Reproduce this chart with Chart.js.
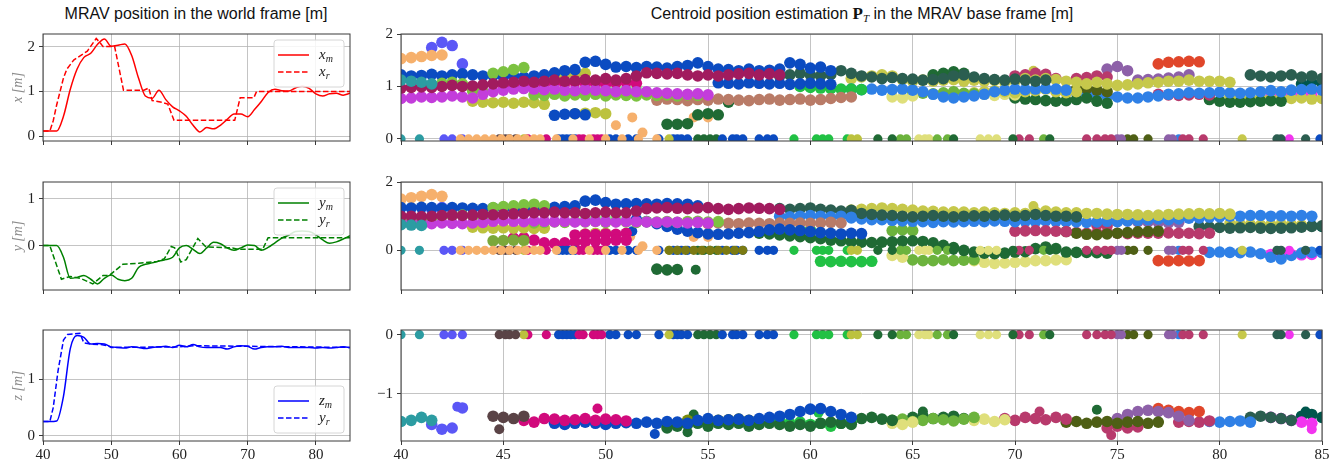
<!DOCTYPE html>
<html>
<head>
<meta charset="utf-8">
<script src="https://cdn.jsdelivr.net/npm/chart.js@4.4.1/dist/chart.umd.min.js"></script>
<style>
  body { margin: 0; background: #fff; width: 1338px; height: 464px; position: relative; overflow: hidden; font-family: "Liberation Sans", sans-serif; }
  canvas { position: absolute; }
  .title { position: absolute; top: 5px; font-size: 16px; color: #111; white-space: nowrap; transform: translateX(-50%); line-height: 18px; }
  .bold { font-family: "Liberation Serif", serif; font-weight: bold; font-size: 17px; }
  .sub { font-family: "Liberation Serif", serif; font-style: italic; font-size: 11px; vertical-align: -3px; }
</style>
</head>
<body>
<div class="title" style="left:196px">MRAV position in the world frame [m]</div>
<div class="title" style="left:862px">Centroid position estimation <span class="bold">P</span><span class="sub">T</span> in the MRAV base frame [m]</div>

<canvas id="l1" width="352" height="133" style="left:0;top:21px"></canvas>
<canvas id="l2" width="352" height="134" style="left:0;top:169px"></canvas>
<canvas id="l3" width="352" height="146" style="left:0;top:317px"></canvas>
<canvas id="r1" width="986" height="133" style="left:352px;top:21px"></canvas>
<canvas id="r2" width="986" height="134" style="left:352px;top:169px"></canvas>
<canvas id="r3" width="986" height="146" style="left:352px;top:317px"></canvas>

<script>
// ---- left column: MRAV position, sampled once per second from t = 40 s
const tSec = [40,41,42,43,44,45,46,47,48,49,50,51,52,53,54,55,56,57,58,59,60,61,62,63,64,65,66,67,68,69,70,71,72,73,74,75,76,77,78,79,80,81,82,83,84,85];
const xm = [0.12,0.12,0.12,0.45,1.05,1.5,1.76,1.85,2.05,2.17,2.01,2.03,2.06,1.8,1.3,0.9,0.85,1.03,0.82,0.66,0.57,0.45,0.25,0.1,0.2,0.17,0.25,0.38,0.5,0.5,0.44,0.6,0.78,0.98,1.05,1.02,1.01,1.08,1.12,1.07,0.95,0.9,0.95,0.96,0.92,0.96];
const ym = [0,0,0,-0.25,-0.7,-0.68,-0.64,-0.72,-0.82,-0.7,-0.63,-0.72,-0.75,-0.7,-0.47,-0.4,-0.37,-0.33,-0.3,-0.25,-0.05,0,-0.08,-0.17,-0.05,0.07,0.04,-0.05,-0.1,-0.05,0.01,0,-0.1,-0.04,0.06,0.16,0.22,0.3,0.31,0.3,0.23,0.12,0.05,0.08,0.14,0.21];
const zm = [0.25,0.25,0.26,0.7,1.55,1.78,1.75,1.63,1.64,1.63,1.58,1.57,1.56,1.58,1.57,1.55,1.57,1.58,1.59,1.57,1.61,1.58,1.62,1.58,1.57,1.57,1.57,1.54,1.58,1.6,1.59,1.54,1.57,1.58,1.58,1.59,1.57,1.57,1.57,1.57,1.56,1.57,1.56,1.57,1.58,1.57];

// references (piecewise, read at their corners)
const xrT = [40,41,41.5,42,43,43.5,44.5,45.5,46.5,47.8,48.4,48.8,50.5,51.8,54.8,55.5,56,57.5,58.3,59.2,68.1,68.9,70.9,71.3,85];
const xrV = [0.12,0.12,0.35,0.7,1.3,1.5,1.7,1.8,1.9,2.18,2.08,2.0,2.0,1.03,1.03,1.08,0.8,0.76,0.72,0.36,0.36,0.86,0.86,1.0,1.0];
const yrT = [40,41,42.7,44,45.5,47.3,48.8,49.7,51.7,54,56.8,57.8,58.8,59.3,60.2,61,62.7,63.9,67.8,68.5,72.2,73,85];
const yrV = [0,0,-0.72,-0.66,-0.7,-0.82,-0.64,-0.64,-0.4,-0.38,-0.34,-0.28,-0.02,-0.05,-0.35,-0.3,0.15,-0.03,-0.05,-0.08,-0.08,0.17,0.17];
const zrT = [40,41,41.5,42.2,43,43.6,45.4,46,47,48.5,49.5,50,60,62,70,85];
const zrV = [0.25,0.25,0.5,1.15,1.7,1.8,1.82,1.65,1.63,1.62,1.6,1.57,1.58,1.6,1.59,1.57];

// ---- right column: centroid estimates. Tracks are hand-read every DT seconds
const DT = 0.5;
const ROYAL = "#0b4bc1", PEACH = "#f6b06c", PERI = "#5b57f6", LIME = "#7cc241", OLIVE = "#bcc23e";
const CRIMSON = "#a11b5e", VIOLET = "#c33ddb", PINK = "#d10a7c", SALMON = "#b97b67", TEAL = "#2c9ca2";
const MINT = "#8ff58f", DKGREEN = "#1f6a34", SLATE = "#2b5e50", BGREEN = "#21c144", YOLIVE = "#c6c84b";
const PALE = "#dfdf7b", GREEN = "#6cb33d", AZURE = "#2f80e6", RASP = "#b83a6c", PURPLE = "#8d60a8";
const RED = "#e0462a", DKOLIVE = "#4e5f15", MAGENTA = "#f234ef", DKTEAL = "#00564c", BROWN = "#5a4346";
const OLIVEG = "#7a8c0c", LOLIVEG = "#7ba83a", MUDOLIVE = "#7b7a12";

// invalid detections, reported at 0 in all three axes
const zeroDots = [
  [TEAL, [40.0, 40.9]],
  [PERI, [42.1, 42.5, 43.0]],
  [BROWN, [44.8, 45.1, 45.3, 45.6]],
  [OLIVE, [46.0, 53.1, 62.0, 62.3]],
  [PINK, [46.2, 47.1, 48.7, 48.9, 49.4, 49.6, 49.8]],
  [ROYAL, [47.7, 47.9, 48.1, 48.3, 48.5, 50.2, 50.5, 51.1, 51.5, 52.6, 53.3, 53.5, 53.7, 54.0, 55.7, 56.2, 56.4, 56.7, 57.5, 57.9, 58.2, 84.9]],
  [DKGREEN, [54.5, 54.8, 55.1, 55.4, 63.3, 64.0, 67.0, 69.9, 71.7]],
  [BGREEN, [59.2, 60.3, 60.6, 60.9, 61.8]],
  [GREEN, [64.4, 64.7, 66.2, 66.7, 71.4]],
  [PALE, [65.3, 65.6, 65.8, 68.3, 68.7, 69.1]],
  [RASP, [70.2, 70.7, 73.5, 74.0, 74.4, 74.7, 78.2, 78.5, 79.2]],
  [PURPLE, [75.0, 75.2, 77.5, 77.7]],
  [DKOLIVE, [75.5, 75.8, 76.5]],
  [SLATE, [82.8, 83.0, 84.2]],
  [AZURE, [78.0]],
  [MAGENTA, [83.4]],
  [YOLIVE, [81.1]]
];
const peachZero = [42.9, 43.3, 43.7, 44.1, 44.5, 44.9, 45.3, 45.7, 46.1, 46.5, 46.8, 47.6, 48.4, 49.2, 50.0, 50.8, 51.6, 52.5];
const mudZero = [53.1, 53.5, 53.9, 54.3, 54.7, 55.1, 55.5, 55.9, 56.3, 56.7];

// [colour, start time, values]
const xTracks = [
  [TEAL, 40, [1.12,1.1,1.08,1.05]],
  [CRIMSON, 40, [0.97,0.98,0.99,0.98,1.0,1.02,1.0,1.01,1.03,1.05,1.07,1.08,1.1,1.08,1.1,1.12,1.1,1.11,1.13,1.12,1.15,1.12,1.15,1.2,1.26,1.25,1.24,1.25,1.22,1.2,1.22,1.2,1.22,1.24,1.25,1.22,1.24,1.22]],
  [VIOLET, 40, [0.77,0.78,0.8,0.79,0.8,0.82,0.8,0.78,0.85,0.9,0.93,0.95,0.96,0.95,0.94,0.95,0.93,0.92,0.94,0.93,0.92,0.9,0.92,0.9,0.9,0.88,0.87,0.86,0.85,0.86,0.84]],
  [PINK, 45, [1.02,1.03,1.05,1.06,1.05,1.07,1.06,1.08,1.07,1.06,1.05,1.07,1.08,1.06]],
  [LIME, 41.5, [1.03,1.06,1.08,1.05,0.92,0.9,1.25,1.28,1.32,1.36]],
  [LIME, 46.5, [0.84,0.83,0.85,0.82,0.84,0.83,0.85,0.82,0.84,0.83,0.82,0.84,0.83,0.84,0.82,0.84,0.83]],
  [ROYAL, 40, [1.22,1.2,1.21,1.23,1.2,1.22,1.24,1.22,1.2,1.21,1.19,1.2,1.18,1.2,1.22,1.26,1.3,1.32,1.46,1.48,1.42,1.37,1.38,1.36,1.38,1.37,1.35,1.38,1.4,1.45,1.38,1.33,1.32,1.3,1.33,1.3,1.31,1.33,1.45,1.42,1.35,1.37,1.3]],
  [ROYAL, 47.5, [0.45,0.47,0.48,0.46]],
  [ROYAL, 55.5, [1.07,1.06,1.05,1.07,1.06,1.05,1.06,1.04,1.05,1.06,1.05,1.04]],
  [PEACH, 40, [1.53,1.55,1.57,1.59,1.6]],
  [PERI, 41.5, [1.74,1.84,1.78,1.43]],
  [OLIVE, 43.5, [0.72,0.7,0.69,0.7,0.68,0.7,0.69,0.66]],
  [OLIVE, 47.5, [1.2,1.22,1.24,1.25]],
  [OLIVE, 48.5, [0.48,0.49,0.5,0.48]],
  [MINT, 49, [0.95,0.96,0.95,0.97,0.95,0.96]],
  [SALMON, 52.5, [0.74,0.76,0.75,0.73,0.75,0.74,0.76,0.75,0.74,0.73,0.75,0.76,0.74,0.75,0.76,0.74,0.75,0.77,0.79,0.8]],
  [DKGREEN, 53, [0.28,0.28,0.29,0.46,0.48,0.46,0.7]],
  [SLATE, 58.5, [1.2,1.22,1.25,1.22,1.2,1.23,1.3,1.25,1.2,1.18,1.15,1.17,1.15,1.14,1.12,1.13,1.15,1.2,1.22,1.18,1.15,1.13,1.12,1.14,1.12,1.1,1.12]],
  [BGREEN, 59.5, [1.0,0.98,0.97,0.96,0.95,0.95,0.94]],
  [AZURE, 62, [0.95,0.94,0.95,0.93,0.94,0.95,0.93,0.9,0.85,0.8,0.78,0.8,0.82,0.85,0.9,0.93,0.95,0.94,0.95,0.96,0.95,0.93]],
  [YOLIVE, 62, [1.15,1.18,1.2,1.22,1.2,1.13,1.1,1.12,1.1,1.12,1.13,1.1,1.12,1.1,1.12,1.08,1.1,1.15,1.12,1.15,1.13,1.1,1.08,1.05,1.08,1.05,1.02,1.03,1.05,1.07,1.08,1.1,1.1,1.12,1.1,1.1,1.1,1.08]],
  [PALE, 64, [0.8,0.78,0.82]],
  [GREEN, 65, [0.88,0.87,0.86,0.88,0.9,0.87,0.86]],
  [DKGREEN, 66, [1.22,1.25,1.28,1.25]],
  [YOLIVE, 68, [0.88,0.9,0.92,0.9,0.88,0.9,0.92,0.95,0.9,0.88,0.9]],
  [PALE, 68.5, [0.85,0.83,0.85,0.84]],
  [DKGREEN, 70, [0.78,0.76,0.75,0.73,0.72,0.73,0.75,0.78,0.72,0.68]],
  [RASP, 70, [1.2,1.22,1.25,1.23,1.15]],
  [DKOLIVE, 72.5, [0.92,0.95,0.96,0.93,0.9]],
  [AZURE, 73, [0.88,0.86,0.85,0.82,0.8,0.78,0.78,0.8,0.82,0.85,0.86,0.88,0.87,0.88,0.89,0.88,0.87,0.88,0.9,0.92,0.9,0.93,0.94,0.95,0.93]],
  [RASP, 73, [1.15,1.17,1.2,1.18]],
  [PURPLE, 74.5, [1.33,1.38,1.3,1.12,1.13,1.14,1.16,1.18,1.22]],
  [RED, 77, [1.43,1.46,1.47,1.48,1.47]],
  [RASP, 77, [0.85,0.84,0.83,0.84,0.85,0.84]],
  [DKGREEN, 79.5, [0.75,0.72,0.7,0.7,0.71,0.72,0.73,0.72]],
  [YOLIVE, 80.5, [0.8,0.78,0.77,0.78,0.76,0.78,0.77,0.78,0.76,0.77]],
  [SLATE, 81.5, [1.22,1.2,1.18,1.2,1.22,1.18,1.2,1.15]],
  [MAGENTA, 82.5, [0.8,0.82,0.83,0.84,0.86]],
  [DKTEAL, 84, [1.05,1.08,1.07]]
];
const xExtras = [[PEACH, 50.5, 0.26], [PEACH, 51.3, 0.41], [PEACH, 51.8, 0.12], [PEACH, 54.3, 0.41], [PEACH, 55.0, 0.41], [YOLIVE, 70.9, 1.3]];

const yTracks = [
  [TEAL, 40, [0.75,0.74,0.73]],
  [CRIMSON, 40, [1.0,1.0,0.99,1.0,1.02,1.03,1.02,1.03,1.05,1.04,1.05,1.07,1.08,1.1,1.1,1.12,1.1,1.1,1.08,1.1,1.12,1.1,1.1,1.15,1.22,1.24,1.25,1.23,1.22,1.24,1.25,1.22,1.2,1.22,1.24,1.23,1.22,1.2]],
  [VIOLET, 40, [0.78,0.79,0.8,0.78,0.8,0.79,0.78,0.8,0.82,0.85,0.86,0.85,0.84,0.86,0.85,0.84,0.85,0.83,0.84,0.85,0.84,0.83,0.85,0.84,0.83,0.82,0.83,0.82,0.8,0.82,0.8]],
  [LIME, 40, [0.88,0.9,0.92,0.95,1.0,1.02,1.03,1.0,0.95,1.25,1.28,1.3,1.33,1.35,1.3]],
  [LIME, 46.5, [0.8,0.82,0.83,0.82,0.84,0.83,0.85,0.82,0.84,0.83,0.82,0.84,0.83,0.84,0.82,0.84,0.85,0.83,0.84]],
  [ROYAL, 40, [1.25,1.24,1.26,1.25,1.23,1.25,1.24,1.23,1.22,1.24,1.23,1.22,1.2,1.22,1.24,1.26,1.28,1.3,1.44,1.47,1.4,1.35,1.36,1.37,1.36,1.35,1.37,1.36,1.35,1.3]],
  [ROYAL, 51.5, [0.9,0.84,0.78,0.7,0.62,0.56,0.52,0.48,0.47,0.48,0.5,0.52,0.55,0.6,0.62,0.6,0.58,0.55,0.52,0.5,0.48,0.5,0.49]],
  [PEACH, 40, [1.5,1.54,1.58,1.63,1.58]],
  [PERI, 41.5, [1.2,1.25,1.22]],
  [OLIVE, 43.5, [0.68,0.66,0.65,0.66,0.65,0.66,0.64,0.65]],
  [LOLIVEG, 44.5, [0.28,0.29,0.3,0.29]],
  [PINK, 45.5, [0.36,0.37,0.3,0.22,0.2,0.22,0.24,0.25,0.27,0.28,0.3,0.3]],
  [OLIVE, 47, [1.2,1.22,1.24,1.25]],
  [PINK, 48.5, [0.45,0.47,0.46,0.48,0.47,0.5]],
  [OLIVE, 49, [0.48,0.5,0.5]],
  [MINT, 49, [0.92,0.93,0.92,0.94]],
  [DKGREEN, 52.5, [-0.55,-0.57,-0.56]],
  [SALMON, 55, [0.78,0.8,0.79,0.78,0.8,0.79,0.78,0.8,0.79,0.8,0.79,0.8,0.82,0.8]],
  [DKGREEN, 57.5, [0.5,0.48,0.45,0.42,0.4,0.37,0.34,0.3,0.28,0.25,0.24,0.23,0.24,0.25,0.27,0.28,0.26,0.22,0.15,0.08,0.0,-0.05,-0.08,-0.1,-0.08,-0.05,-0.04,0.05,0.1,0.05,-0.05,-0.06,-0.06,-0.07,-0.08]],
  [AZURE, 58.5, [1.0,0.98,1.0,1.02,1.0,0.98,1.0,0.97]],
  [SLATE, 58.5, [1.22,1.2,1.22,1.24,1.2,1.18,1.15,1.17]],
  [BGREEN, 58.5, [0.6,0.58,0.57,0.6]],
  [BGREEN, 60.5, [-0.32,-0.33,-0.32,-0.33,-0.33,-0.32]],
  [SLATE, 62, [1.1,1.08,1.05,1.03,1.02,1.0,0.98,1.0,1.02,1.0,0.98,1.0,1.01,1.0,1.02,1.03,1.0,1.02,1.05,1.02,1.0,1.0,0.98]],
  [YOLIVE, 62, [1.18,1.2,1.22,1.24,1.22,1.2,1.18,1.15,1.14,1.12,1.13,1.12,1.1,1.12,1.1,1.08,1.1,1.08,1.12,1.15,1.12,1.1,1.1,1.08,1.08,1.06,1.05,1.05,1.04,1.02,1.03,1.05,1.06,1.07,1.08,1.07,1.08,1.06]],
  [AZURE, 62, [0.95,0.92,0.9,0.9,0.88,0.86,0.85,0.84,0.82,0.84,0.83,0.84,0.85,0.84,0.86,0.85,0.84]],
  [GREEN, 64, [0.58,0.6,0.58]],
  [PALE, 64, [-0.15,-0.2]],
  [GREEN, 65, [-0.28,-0.3,-0.3,-0.28,-0.3,-0.29,-0.27]],
  [PALE, 68, [-0.3,-0.35,-0.38,-0.37,-0.35,-0.33,-0.3,-0.3,-0.28,-0.27]],
  [RASP, 70, [0.56,0.57,0.58,0.57,0.56,0.55]],
  [AZURE, 70.5, [0.85,0.84,0.86,0.85,0.84,0.83,0.82,0.83,0.85,0.84,0.86,0.88,0.9,0.92,0.9,0.92,0.94,0.95,0.97,0.98,1.0,1.0,1.02,1.02,1.0,1.01,1.0,1.02,1.0]],
  [DKOLIVE, 72.5, [0.55,0.5,0.47,0.46,0.48,0.5,0.52,0.54,0.55,0.56]],
  [RASP, 73, [0.52,0.5,0.5,0.52,0.5,0.49,0.5,0.5,0.5,0.51,0.5,0.5,0.49,0.5]],
  [RASP, 74, [0.74,0.72]],
  [PURPLE, 74.5, [0.82,0.85,0.86,0.84,0.83,0.82,0.8,0.82]],
  [RED, 77, [-0.3,-0.31,-0.3,-0.31,-0.3]],
  [SLATE, 79, [0.7,0.68,0.67,0.65,0.66,0.67,0.65,0.64,0.65,0.66,0.68,0.7,0.72]],
  [AZURE, 79.5, [-0.06,-0.05,-0.06,-0.07,-0.05,-0.1,-0.2,-0.25,-0.15,-0.08,-0.06,-0.07]],
  [YOLIVE, 80.5, [0.78,0.76,0.75,0.74,0.75,0.76,0.75,0.74]],
  [MAGENTA, 82.5, [-0.12,-0.13,-0.12,-0.13,-0.12]],
  [DKTEAL, 84, [0.7,0.72,0.7]]
];
const yExtras = [[ROYAL, 51.3, 0.56], [PEACH, 51.2, 0.41], [PEACH, 51.8, 0.12], [PEACH, 54.3, 0.39], [PEACH, 55.0, 0.39], [DKGREEN, 54.4, -0.57], [YOLIVE, 70.9, 1.3]];

const zTracks = [
  [TEAL, 40, [-1.47,-1.45,-1.4,-1.45]],
  [PERI, 41.5, [-1.52,-1.6,-1.58,-1.24]],
  [BROWN, 44.5, [-1.38,-1.4,-1.42,-1.38]],
  [PINK, 46, [-1.45,-1.48,-1.42,-1.43,-1.45,-1.44,-1.42,-1.45,-1.43,-1.44,-1.46]],
  [ROYAL, 47.5, [-1.5,-1.52,-1.5,-1.48,-1.5,-1.52,-1.5,-1.49,-1.5,-1.48,-1.5,-1.47,-1.48,-1.5,-1.45,-1.42,-1.45,-1.44,-1.43,-1.45,-1.42,-1.4,-1.38,-1.35,-1.3,-1.26,-1.25,-1.3,-1.35,-1.4]],
  [DKGREEN, 53, [-1.58,-1.55,-1.52,-1.5,-1.55,-1.5,-1.52,-1.5,-1.55,-1.52,-1.5,-1.52,-1.55,-1.52,-1.55,-1.5,-1.48,-1.5,-1.52]],
  [OLIVEG, 53, [-1.55,-1.5,-1.45,-1.47,-1.48,-1.45,-1.44,-1.43,-1.45]],
  [BGREEN, 58.5, [-1.45,-1.5,-1.48,-1.52,-1.5,-1.55,-1.5,-1.48]],
  [DKGREEN, 62.5, [-1.42,-1.4,-1.43,-1.45]],
  [PALE, 64, [-1.5,-1.52,-1.48]],
  [GREEN, 64, [-1.45,-1.43,-1.47,-1.45,-1.42,-1.44,-1.46,-1.43,-1.4]],
  [DKGREEN, 65, [-1.4,-1.38,-1.42,-1.4,-1.38,-1.42]],
  [PALE, 68, [-1.45,-1.43,-1.47,-1.44]],
  [RASP, 69.5, [-1.42,-1.45,-1.4,-1.42,-1.44,-1.4,-1.43]],
  [DKOLIVE, 72.5, [-1.48,-1.47,-1.5,-1.48,-1.47,-1.5,-1.48,-1.47,-1.5,-1.48]],
  [RASP, 74.5, [-1.58,-1.55,-1.58,-1.56]],
  [PURPLE, 74.5, [-1.48,-1.42,-1.35,-1.3,-1.28,-1.3,-1.32,-1.38,-1.45]],
  [RED, 77, [-1.25,-1.28,-1.3,-1.32,-1.3]],
  [RASP, 78, [-1.48,-1.47,-1.48,-1.46]],
  [AZURE, 79.5, [-1.47,-1.48,-1.47,-1.46,-1.48]],
  [SLATE, 81.5, [-1.4,-1.38,-1.4,-1.42,-1.45]],
  [MAGENTA, 82.5, [-1.4,-1.42,-1.45,-1.48,-1.5]],
  [DKTEAL, 84, [-1.38,-1.35,-1.4]]
];
const zExtras = [[PERI, 42.75, -1.22], [BROWN, 44.8, -1.6], [PINK, 49.6, -1.25], [ROYAL, 52.4, -1.68], [DKGREEN, 54.0, -1.65], [DKGREEN, 54.3, -1.35],
  [BGREEN, 60.4, -1.32], [DKGREEN, 65.5, -1.3], [RASP, 71.2, -1.3], [DKGREEN, 74.0, -1.27], [RASP, 74.7, -1.7], [MAGENTA, 84.5, -1.6], [DKTEAL, 84.2, -1.3]];

const pairs = (ts, vs) => ts.map((t, i) => ({ x: t, y: vs[i] }));
const trackPoints = (t0, ys) => ys.map((y, i) => ({ x: t0 + i * DT, y }));

const TICK_FONT = { family: "Liberation Serif", size: 15 };
const GRID = "rgba(176,176,176,0.75)";

// frame round the axes + y label + math legend
const framePlugin = {
  id: "frame",
  afterDraw(chart, args, opts) {
    const { ctx, chartArea: a } = chart;
    ctx.save();
    ctx.strokeStyle = "#3a3a3a";
    ctx.lineWidth = 1;
    ctx.strokeRect(a.left, a.top, a.right - a.left, a.bottom - a.top);
    if (opts.ylabel) {
      ctx.translate(a.left - 25, (a.top + a.bottom) / 2);
      ctx.rotate(-Math.PI / 2);
      ctx.fillStyle = "#8c8c8c";
      ctx.font = "italic 14px 'Liberation Serif'";
      ctx.textAlign = "center";
      ctx.textBaseline = "middle";
      ctx.fillText(opts.ylabel, 0, 0);
    }
    ctx.restore();
    if (opts.legend) {
      const L = opts.legend;
      const w = 70, h = 47;
      const x0 = a.right - w - 6;
      const y0 = L.loc === "lower" ? a.bottom - h - 8 : a.top + 6;
      ctx.save();
      ctx.fillStyle = "rgba(255,255,255,0.85)";
      ctx.strokeStyle = "#d6d6d6";
      ctx.beginPath();
      ctx.roundRect(x0, y0, w, h, 3);
      ctx.fill();
      ctx.stroke();
      L.items.forEach((it, i) => {
        const y = y0 + 15 + i * 17;
        ctx.strokeStyle = L.color;
        ctx.lineWidth = 1.5;
        ctx.setLineDash(it.dash ? [5.5, 2.5] : []);
        ctx.beginPath();
        ctx.moveTo(x0 + 4, y);
        ctx.lineTo(x0 + 35, y);
        ctx.stroke();
        ctx.setLineDash([]);
        ctx.fillStyle = "#222";
        ctx.font = "italic 15px 'Liberation Serif'";
        ctx.textBaseline = "alphabetic";
        ctx.fillText(it.sym, x0 + 45, y + 4);
        const sw = ctx.measureText(it.sym).width;
        ctx.font = "italic 10px 'Liberation Serif'";
        ctx.fillText(it.sub, x0 + 45 + sw, y + 7);
      });
      ctx.restore();
    }
  }
};

function axes(xTicks, showX, xH, yMin, yMax, yTicks, yW) {
  return {
    x: {
      type: "linear", min: 40, max: 85,
      afterBuildTicks: (ax) => { ax.ticks = xTicks.map(v => ({ value: v })); },
      afterFit: (ax) => { ax.height = xH; },
      grid: { color: GRID, lineWidth: 1, tickLength: 4, tickColor: "#3a3a3a" },
      border: { display: false },
      ticks: { display: showX, font: TICK_FONT, color: "#222", padding: 1, maxRotation: 0 }
    },
    y: {
      min: yMin, max: yMax,
      afterBuildTicks: (ax) => { ax.ticks = yTicks.map(v => ({ value: v })); },
      afterFit: (ax) => { ax.width = yW; },
      grid: { color: GRID, lineWidth: 1, tickLength: 4, tickColor: "#3a3a3a" },
      border: { display: false },
      ticks: { font: TICK_FONT, color: "#222", padding: 4, callback: (v) => (v < 0 ? "\u2212" + (-v) : String(v)) }
    }
  };
}

function lineChart(id, color, meas, ref, yMin, yMax, yTicks, showX, xH, ylabel, legend) {
  new Chart(document.getElementById(id), {
    type: "scatter",
    data: {
      datasets: [
        { data: meas, showLine: true, borderColor: color, borderWidth: 1.5, pointRadius: 0, tension: 0, cubicInterpolationMode: "monotone" },
        { data: ref, showLine: true, borderColor: color, borderWidth: 1.5, pointRadius: 0, borderDash: [5.5, 2.5], tension: 0 }
      ]
    },
    options: {
      responsive: false, animation: false, devicePixelRatio: 1,
      layout: { padding: { top: 6, right: 2 } },
      events: [],
      plugins: { legend: { display: false }, tooltip: { enabled: false }, frame: { ylabel, legend } },
      scales: axes([40, 50, 60, 70, 80], showX, xH, yMin, yMax, yTicks, 43)
    },
    plugins: [framePlugin]
  });
}

function scatterChart(id, tracks, extras, zeroBands, yMin, yMax, yTicks, showX, xH) {
  const datasets = [];
  zeroBands.forEach(([c, ts]) => datasets.push({ data: ts.map(t => ({ x: t, y: 0 })), backgroundColor: c, pointRadius: 4.6 }));
  zeroDots.forEach(([c, ts]) => datasets.push({ data: ts.map(t => ({ x: t, y: 0 })), backgroundColor: c, pointRadius: 4.6 }));
  tracks.forEach(([c, t0, ys]) => datasets.push({ data: trackPoints(t0, ys), backgroundColor: c, pointRadius: 5.8 }));
  extras.forEach(([c, t, y]) => datasets.push({ data: [{ x: t, y }], backgroundColor: c, pointRadius: 5 }));
  new Chart(document.getElementById(id), {
    type: "scatter",
    data: { datasets },
    options: {
      responsive: false, animation: false, devicePixelRatio: 1,
      layout: { padding: { top: 6, right: 16 } },
      events: [],
      elements: { point: { borderWidth: 0 } },
      plugins: { legend: { display: false }, tooltip: { enabled: false }, frame: {} },
      scales: axes([40, 45, 50, 55, 60, 65, 70, 75, 80, 85], showX, xH, yMin, yMax, yTicks, 49)
    },
    plugins: [framePlugin]
  });
}

lineChart("l1", "#ff0000", pairs(tSec, xm), pairs(xrT, xrV), -0.1, 2.28, [0, 1, 2], false, 10, "x [m]",
  { loc: "upper", color: "#ff0000", items: [{ sym: "x", sub: "m" }, { sym: "x", sub: "r", dash: true }] });
lineChart("l2", "#008000", pairs(tSec, ym), pairs(yrT, yrV), -0.95, 1.36, [0, 1], false, 10, "y [m]",
  { loc: "upper", color: "#008000", items: [{ sym: "y", sub: "m" }, { sym: "y", sub: "r", dash: true }] });
lineChart("l3", "#0000ff", pairs(tSec, zm), pairs(zrT, zrV), -0.095, 1.88, [0, 1], true, 22, "z [m]",
  { loc: "lower", color: "#0000ff", items: [{ sym: "z", sub: "m" }, { sym: "y", sub: "r", dash: true }] });

scatterChart("r1", xTracks, xExtras, [[PEACH, peachZero]], -0.04, 2.0, [0, 1, 2], false, 10);
scatterChart("r2", yTracks, yExtras, [[PEACH, peachZero], [MUDOLIVE, mudZero]], -1.16, 2.0, [0, 2], false, 10);
scatterChart("r3", zTracks, zExtras, [], -1.8, 0.08, [-1, 0], true, 22);
</script>
</body>
</html>
